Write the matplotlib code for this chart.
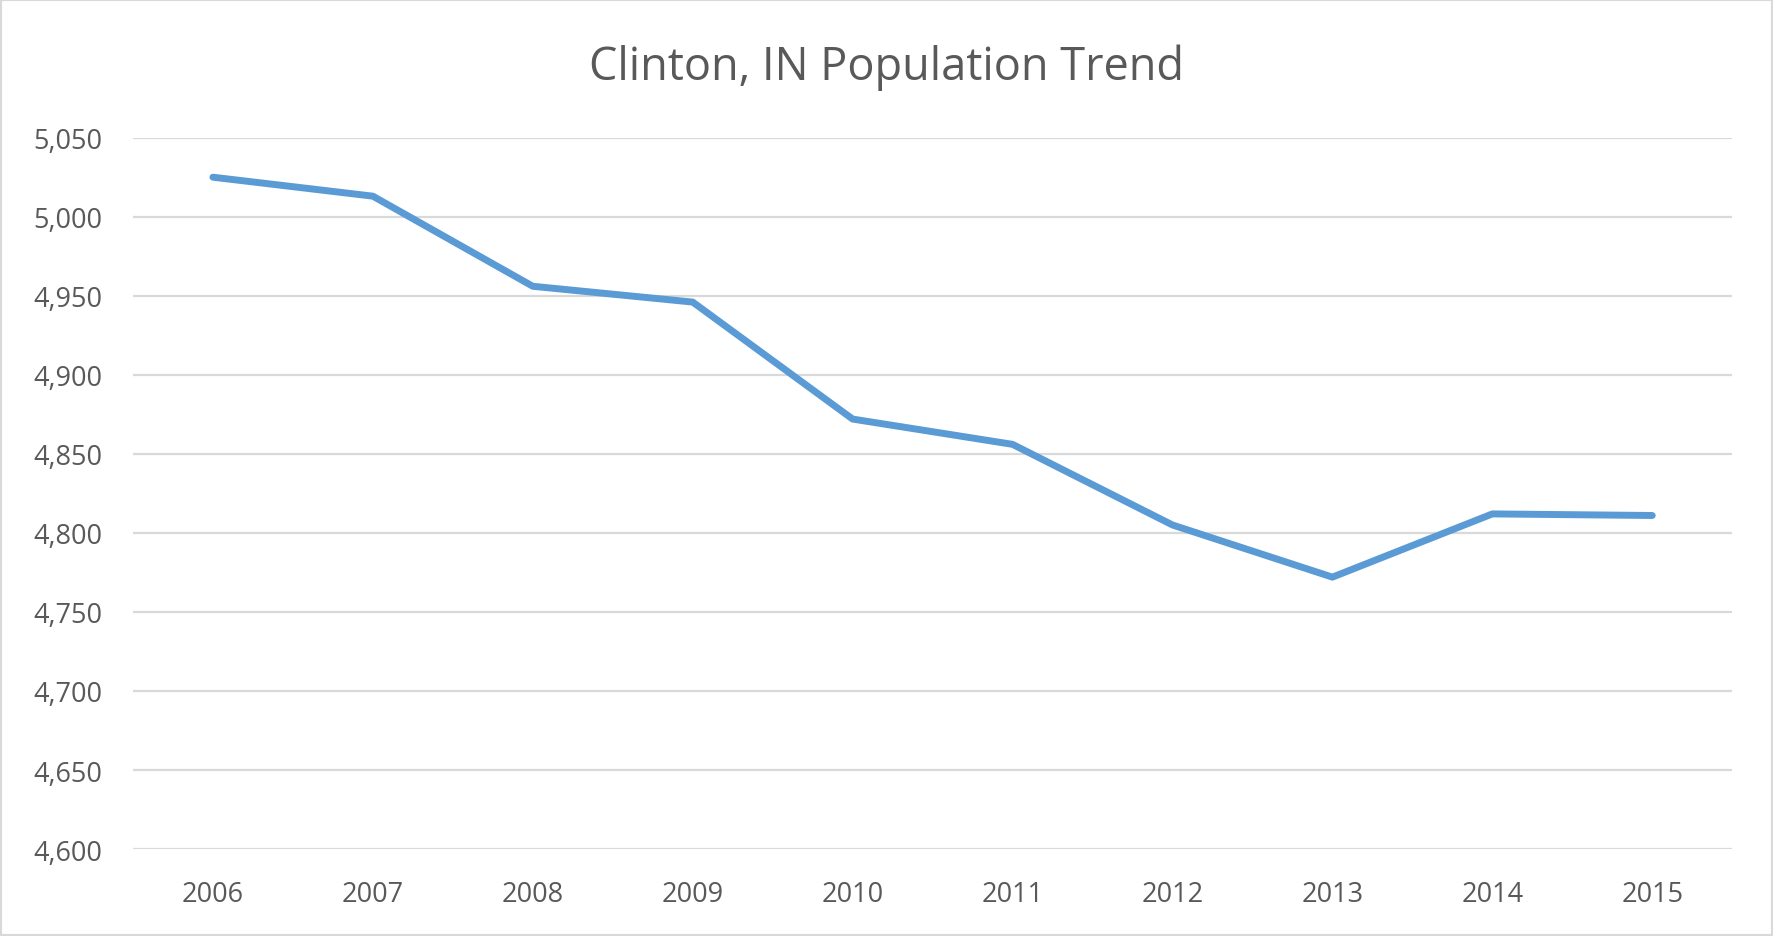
import numpy as np
import matplotlib.pyplot as plt
from matplotlib.patches import Rectangle
from matplotlib.ticker import FuncFormatter

years = ['2006', '2007', '2008', '2009', '2010', '2011', '2012', '2013', '2014', '2015']
population = [5025, 5013, 4956, 4946, 4872, 4856, 4805, 4772, 4812, 4811]
y_ticks = [4600, 4650, 4700, 4750, 4800, 4850, 4900, 4950, 5000, 5050]

plt.rcParams['font.family'] = ['Open Sans', 'DejaVu Sans']
text_color = '#595959'
grid_color = '#D9D9D9'

fig = plt.figure(figsize=(17.73, 9.37), dpi=100)
ax = fig.add_axes([0.075, 0.0928, 0.902, 0.7592])

x = np.arange(len(years))
ax.plot(x, population, color='#5B9BD5', linewidth=5, solid_capstyle='round', solid_joinstyle='round', zorder=3)

ax.set_xlim(-0.5, len(years) - 0.5)
ax.set_ylim(4600, 5050)
ax.set_yticks(y_ticks)
ax.yaxis.set_major_formatter(FuncFormatter(lambda v, p: f'{int(v):,}'))
ax.set_xticks(x)
ax.set_xticklabels(years)
ax.grid(axis='y', color=grid_color, linewidth=1.6)
ax.set_axisbelow(True)
for s in ax.spines.values():
    s.set_visible(False)
ax.tick_params(axis='both', length=0, labelsize=19.5, labelcolor=text_color)
ax.tick_params(axis='x', pad=22)
ax.tick_params(axis='y', pad=22)

fig.suptitle('Clinton, IN Population Trend', fontsize=32.5, color=text_color, y=0.953)

fig.patches.append(Rectangle((0, 0), 1, 1, transform=fig.transFigure, fill=False,
                             edgecolor=grid_color, linewidth=3))

fig.savefig('out.png', dpi=100)
